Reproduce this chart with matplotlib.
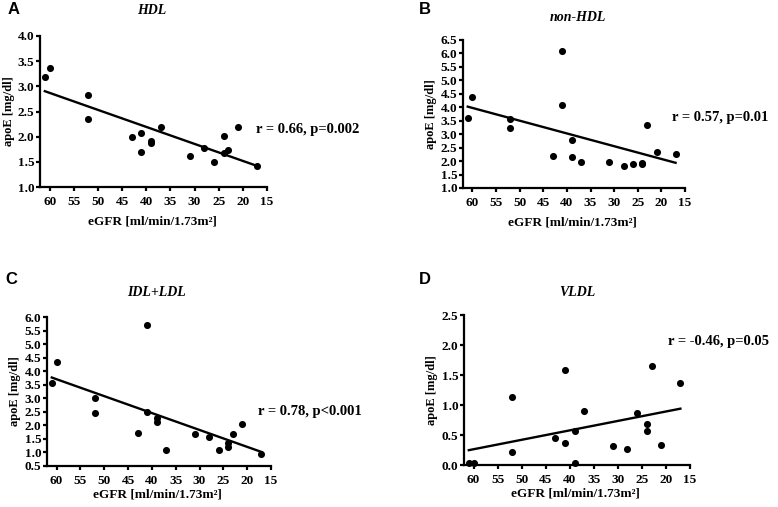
import numpy as np
import matplotlib
matplotlib.use("Agg")
import matplotlib.pyplot as plt

plt.rcParams['font.family'] = ['Liberation Serif', 'DejaVu Serif']
plt.rcParams['font.weight'] = 'bold'

# eGFR values (shared x for all panels)
egfr = [61, 60, 52, 52, 43, 41, 41, 39, 39, 37, 31, 28, 26, 24, 24, 23, 21, 17]

hdl = [3.19, 3.37, 2.83, 2.36, 2.00, 2.08, 1.70, 1.87, 1.91, 2.19, 1.62, 1.78, 1.49, 2.02, 1.68, 1.73, 2.19, 1.42]
non_hdl = [3.61, 4.39, 3.58, 3.24, 2.19, 6.08, 4.07, 2.80, 2.17, 1.98, 1.98, 1.82, 1.91, 1.93, 1.88, 3.34, 2.35, 2.28]
idl_ldl = [3.57, 4.34, 3.02, 2.45, 1.73, 5.72, 2.50, 2.26, 2.13, 1.10, 1.68, 1.58, 1.08, 1.36, 1.19, 1.69, 2.04, 0.94]
vldl = [0.03, 0.03, 1.14, 0.22, 0.45, 1.58, 0.36, 0.56, 0.03, 0.90, 0.32, 0.26, 0.86, 0.69, 0.56, 1.65, 0.34, 1.37]

titles = ['HDL', 'non-HDL', 'IDL+LDL', 'VLDL']
letters = ['A', 'B', 'C', 'D']
stats = ['r = 0.66, p=0.002', 'r = 0.57, p=0.01', 'r = 0.78, p<0.001', 'r = -0.46, p=0.05']
series = [hdl, non_hdl, idl_ldl, vldl]
ylims = [(1.0, 4.0), (1.0, 6.5), (0.5, 6.0), (0.0, 2.5)]
xticks = [60, 55, 50, 45, 40, 35, 30, 25, 20, 15]

W, H = 778, 507
fig = plt.figure(figsize=(W / 100, H / 100), dpi=100)

# axes boxes in pixels: left, right, top, bottom
boxes = [(40, 267, 36, 187), (463, 685, 40, 188), (47, 271, 317, 466), (464, 690, 315, 465)]
title_pos = [(152, 11), (578, 17.5), (157, 293), (577, 292)]
letter_pos = [(14, 9), (425, 9), (11.5, 280), (425, 280)]
stat_pos = [(256, 129), (672, 118), (258, 411.5), (668, 341)]
xlab_y = [-0.19, -0.19, -0.15, -0.153]
ylab_x = [-0.112, -0.117, -0.118, -0.115]

def fx(x):
    return x / W

def fy(y):
    return 1 - y / H

for i in range(4):
    l, r, t, b = boxes[i]
    ax = fig.add_axes([fx(l), fy(b), (r - l) / W, (b - t) / H])
    y = np.array(series[i])
    x = np.array(egfr)
    ax.scatter(x, y, s=26, color='black', zorder=3, clip_on=False, linewidths=0)
    k, c = np.polyfit(x, y, 1)
    xs = np.array([x.max(), x.min()])
    ax.plot(xs, k * xs + c, color='black', lw=1.7, zorder=2)
    ax.set_xlim(62, 15)
    ax.set_ylim(*ylims[i])
    ax.set_xticks(xticks)
    ax.set_xticklabels([str(v) for v in xticks])
    ax.set_yticks(np.arange(ylims[i][0], ylims[i][1] + 0.001, 0.5))
    ax.yaxis.set_major_formatter(matplotlib.ticker.FormatStrFormatter('%.1f'))
    for s in ['top', 'right']:
        ax.spines[s].set_visible(False)
    for s in ['left', 'bottom']:
        ax.spines[s].set_linewidth(1.6)
    ax.tick_params(axis='both', direction='out', length=3, width=1.6, labelsize=9.5)
    ax.tick_params(axis='y', pad=1)
    ax.tick_params(axis='x', pad=3.5)
    for lab in ax.get_xticklabels() + ax.get_yticklabels():
        lab.set_fontweight('bold')
    ax.set_xlabel('eGFR [ml/min/1.73m\u00b2]', fontsize=9.5, fontweight='bold', va='top')
    ax.xaxis.set_label_coords(0.495, xlab_y[i])
    ax.set_ylabel('apoE [mg/dl]', fontsize=9, fontweight='bold')
    ax.yaxis.set_label_coords(ylab_x[i], 0.5)
    ax.patch.set_alpha(0)

    tx, ty = title_pos[i]
    fig.text(fx(tx), fy(ty), titles[i], ha='center', va='center', fontsize=10,
             fontweight='bold', fontstyle='italic')
    lx, ly = letter_pos[i]
    fig.text(fx(lx), fy(ly), letters[i], ha='center', va='center', fontsize=12,
             fontweight='bold', family=['Liberation Sans', 'DejaVu Sans'])
    sx, sy = stat_pos[i]
    fig.text(fx(sx), fy(sy), stats[i], ha='left', va='center', fontsize=10.5,
             fontweight='bold')

fig.savefig('out.png', dpi=100)
